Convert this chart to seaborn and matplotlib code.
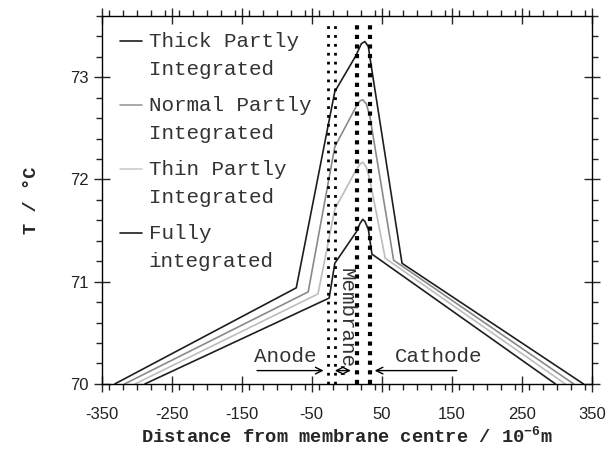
import matplotlib
matplotlib.use("Agg")
import matplotlib.pyplot as plt
import seaborn as sns
import pandas as pd
from matplotlib.ticker import MultipleLocator, FixedLocator

# temperature profiles across the MEA (x in 1e-6 m, T in degC)
thick_x = [-331, -72, -17, 13, 21, 26, 31, 33, 79, 338]
thick_y = [70.0, 70.94, 72.86, 73.21, 73.33, 73.35, 73.30, 73.20, 71.18, 70.0]

normal_x = [-317, -55, -17, 14, 19, 23, 28, 33, 67, 324]
normal_y = [70.0, 70.90, 72.32, 72.72, 72.77, 72.78, 72.74, 72.62, 71.21, 70.0]

thin_x = [-302, -41, -17, 14, 19, 23, 28, 33, 55, 312]
thin_y = [70.0, 70.88, 71.71, 72.10, 72.15, 72.17, 72.12, 72.00, 71.23, 70.0]

fully_x = [-288, -25, -17, 14, 19, 23, 26, 31, 36, 298]
fully_y = [70.0, 70.84, 71.18, 71.49, 71.57, 71.61, 71.59, 71.51, 71.27, 70.0]

labels = ["Thick Partly\nIntegrated", "Normal Partly\nIntegrated",
          "Thin Partly\nIntegrated", "Fully\nintegrated"]

# layer boundaries (dotted lines)
thin_bounds = [-26, -17]
thick_bounds = [15, 33]

xticks = [-350, -250, -150, -50, 50, 150, 250, 350]
yticks = [70, 71, 72, 73]

sns.set_theme(style="ticks")
plt.rcParams["font.family"] = ["Liberation Mono", "DejaVu Sans"]
plt.rcParams["axes.unicode_minus"] = False
plt.rcParams["mathtext.fontset"] = "custom"
plt.rcParams["mathtext.bf"] = "Liberation Mono:bold"
plt.rcParams["mathtext.rm"] = "Liberation Mono"

frames = []
for name, xs, ys in zip(labels, [thick_x, normal_x, thin_x, fully_x],
                        [thick_y, normal_y, thin_y, fully_y]):
    frames.append(pd.DataFrame({"x": xs, "T": ys, "series": name}))
df = pd.concat(frames, ignore_index=True)

colors = {labels[0]: "#1e1e1e", labels[1]: "#8a8a8a",
          labels[2]: "#bdbdbd", labels[3]: "#1e1e1e"}

fig = plt.figure(figsize=(6.12, 4.57), dpi=100)
ax = fig.add_axes([0.166, 0.160, 0.801, 0.805])

sns.lineplot(data=df, x="x", y="T", hue="series", palette=colors,
             estimator=None, sort=False, lw=1.2, ax=ax)

for b in thin_bounds:
    ax.axvline(b, ymax=0.98, color="black", lw=2.0, ls=(0, (1, 2.2)))
for b in thick_bounds:
    ax.axvline(b, ymax=0.98, color="black", lw=3.0, ls=(0, (1, 1.3)))

ax.set_xlim(-350, 350)
ax.set_ylim(70, 73.6)
ax.xaxis.set_major_locator(FixedLocator(xticks))
ax.xaxis.set_minor_locator(MultipleLocator(20))
ax.yaxis.set_major_locator(FixedLocator(yticks))
ax.yaxis.set_minor_locator(MultipleLocator(0.2))
ax.tick_params(which="major", direction="inout", length=11, width=1,
               top=True, right=True, labelsize=12, labelcolor="#222222")
ax.tick_params(which="minor", direction="out", length=4.5, width=1,
               top=True, right=True)
for lab in ax.get_xticklabels() + ax.get_yticklabels():
    lab.set_family("Liberation Sans")
ax.tick_params(axis="x", pad=11)
for s in ax.spines.values():
    s.set_linewidth(1)
    s.set_color("black")

ax.set_xlabel(r"Distance from membrane centre / 10$^{\mathbf{-6}}$m",
              fontsize=13.5, fontweight="bold", labelpad=3)
ax.set_ylabel("T / °C", fontsize=13.5, fontweight="bold", labelpad=22)

# annotations
ax.annotate("", xy=(-29, 70.13), xytext=(-132, 70.13),
            arrowprops=dict(arrowstyle="->", lw=1, color="black"))
ax.annotate("", xy=(36, 70.13), xytext=(161, 70.13),
            arrowprops=dict(arrowstyle="->", lw=1, color="black"))
ax.annotate("", xy=(-17, 70.13), xytext=(6, 70.13),
            arrowprops=dict(arrowstyle="<->", lw=1, color="black",
                            mutation_scale=14, shrinkA=0, shrinkB=0))
ax.text(-88, 70.27, "Anode", fontsize=15, color="#333333",
        ha="center", va="center")
ax.text(131, 70.27, "Cathode", fontsize=15, color="#333333",
        ha="center", va="center")
ax.text(-1, 70.64, "Membrane", fontsize=15, color="#333333",
        rotation=-90, ha="center", va="center")

leg = ax.legend(loc="upper left", bbox_to_anchor=(0.02, 0.978),
                frameon=False, fontsize=15, handlelength=1.05,
                handletextpad=0.35, labelspacing=0.85, borderaxespad=0)
for t in leg.get_texts():
    t.set_color("#333333")
    t.set_linespacing(1.55)
# put each handle next to the first line of its label
for h, c in zip(leg.get_lines(), ["#1e1e1e", "#999999", "#cccccc", "#1e1e1e"]):
    h.set_color(c)
    h.set_linewidth(1.2)
    h.set_ydata([y + 10.5 for y in h.get_ydata()])

fig.savefig("out.png", dpi=100)
